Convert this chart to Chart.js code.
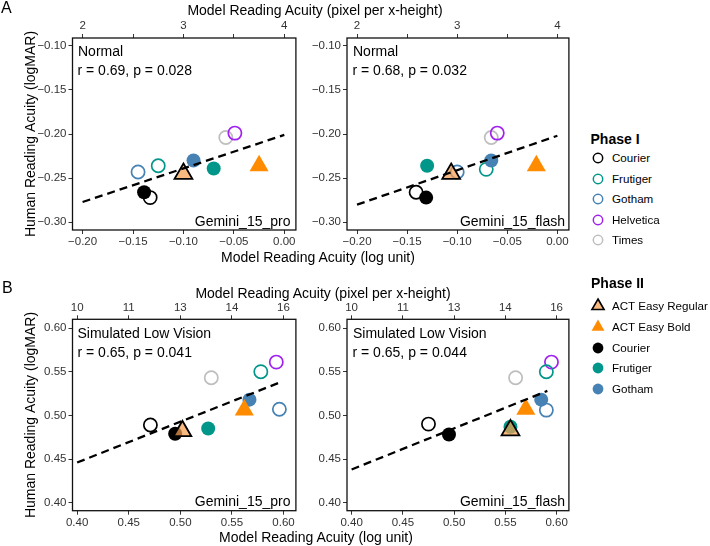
<!DOCTYPE html>
<html><head><meta charset="utf-8">
<script src="https://cdn.jsdelivr.net/npm/chart.js@4.4.1/dist/chart.umd.min.js"></script>
<style>
html,body{margin:0;padding:0;background:#fff;}
body{width:710px;height:546px;position:relative;overflow:hidden;font-family:"Liberation Sans",Arial,sans-serif;color:#000;}
canvas{position:absolute;}
.t{position:absolute;white-space:nowrap;line-height:1;}
svg.m{position:absolute;overflow:visible;}
</style></head><body>
<canvas id="cA1" width="308" height="270" style="left:0;top:0"></canvas>
<canvas id="cA2" width="281" height="270" style="left:300px;top:0"></canvas>
<canvas id="cB1" width="308" height="276" style="left:0;top:270px"></canvas>
<canvas id="cB2" width="281" height="276" style="left:300px;top:270px"></canvas>
<script>
// ---------------- DATA ----------------
const phase1Fonts = ["Courier","Frutiger","Gotham","Helvetica","Times"];
const phase2Fonts = ["ACT Easy Regular","ACT Easy Bold","Courier","Frutiger","Gotham"];

// Panel A (Normal), Gemini_15_pro
const aProP1X = [-0.133,-0.125,-0.145,-0.049,-0.058];
const aProP1Y = [-0.272,-0.236,-0.243,-0.199,-0.204];
const aProP2X = [-0.100,-0.025,-0.139,-0.070,-0.090];
const aProP2Y = [-0.245,-0.236,-0.266,-0.239,-0.230];
const aProFitX = [-0.20,0.00];
const aProFitY = [-0.277,-0.201];

// Panel A (Normal), Gemini_15_flash
const aFlashP1X = [-0.141,-0.071,-0.100,-0.060,-0.066];
const aFlashP1Y = [-0.266,-0.240,-0.243,-0.199,-0.204];
const aFlashP2X = [-0.106,-0.021,-0.131,-0.130,-0.066];
const aFlashP2Y = [-0.245,-0.236,-0.272,-0.236,-0.230];
const aFlashFitX = [-0.20,0.00];
const aFlashFitY = [-0.280,-0.202];

// Panel B (Simulated Low Vision), Gemini_15_pro
const bProP1X = [0.471,0.578,0.596,0.593,0.530];
const bProP1Y = [0.489,0.550,0.507,0.561,0.543];
const bProP2X = [0.502,0.562,0.495,0.527,0.567];
const bProP2Y = [0.482,0.506,0.479,0.485,0.518];
const bProFitX = [0.40,0.595];
const bProFitY = [0.446,0.537];

// Panel B (Simulated Low Vision), Gemini_15_flash
const bFlashP1X = [0.475,0.590,0.590,0.595,0.560];
const bFlashP1Y = [0.490,0.550,0.506,0.561,0.543];
const bFlashP2X = [0.555,0.570,0.495,0.555,0.585];
const bFlashP2Y = [0.483,0.507,0.478,0.487,0.518];
const bFlashFitX = [0.40,0.591];
const bFlashFitY = [0.438,0.528];

// Tick values and labels
const xTicksA = [-0.20,-0.15,-0.10,-0.05,0.00];
const xTickLabelsA = ["\u22120.20","\u22120.15","\u22120.10","\u22120.05","0.00"];
const topTickLabelsA = ["2","","3","","4"];
const yTicksA = [-0.30,-0.25,-0.20,-0.15,-0.10];
const yTickLabelsA = ["\u22120.30","\u22120.25","\u22120.20","\u22120.15","\u22120.10"];
const xTicksB = [0.40,0.45,0.50,0.55,0.60];
const xTickLabelsB = ["0.40","0.45","0.50","0.55","0.60"];
const topTickLabelsB = ["10","11","13","14","16"];
const yTicksB = [0.40,0.45,0.50,0.55,0.60];
const yTickLabelsB = ["0.40","0.45","0.50","0.55","0.60"];

// ---------------- STYLES ----------------
const FONT = '"Liberation Sans", Arial, sans-serif';
Chart.defaults.font.family = FONT;
Chart.defaults.color = '#333';
const fontColor = {Courier:'#000000', Frutiger:'#00978A', Gotham:'#4682B4', Helvetica:'#A020F0', Times:'#BEBEBE'};
const regFill = 'rgba(246,160,80,0.72)';
const boldFill = '#FF8C00';

function p2Style(name){
  if(name==='ACT Easy Regular') return {pointStyle:'triangle', pointRadius:10.3, backgroundColor:regFill, borderColor:'#000', borderWidth:1.8, order:1};
  if(name==='ACT Easy Bold') return {pointStyle:'triangle', pointRadius:11, backgroundColor:boldFill, borderColor:boldFill, borderWidth:0, order:1};
  return {pointStyle:'circle', pointRadius:7, backgroundColor:fontColor[name], borderColor:fontColor[name], borderWidth:0, order:2};
}

const framePlugin = {
  id:'frame',
  afterDraw(chart){
    const a = chart.chartArea, ctx = chart.ctx;
    ctx.save(); ctx.strokeStyle = '#111'; ctx.lineWidth = 1.3;
    ctx.strokeRect(a.left, a.top, a.right-a.left, a.bottom-a.top);
    ctx.restore();
  }
};

function makeChart(id, c){
  const canvas = document.getElementById(id);
  const H = canvas.height;
  const datasets = [];
  phase1Fonts.forEach((f,i)=>{
    datasets.push({type:'scatter', label:'P1 '+f, data:[{x:c.p1X[i], y:c.p1Y[i]}],
      pointStyle:'circle', pointRadius:6.6, backgroundColor:'rgba(0,0,0,0)', borderColor:fontColor[f], borderWidth:1.7, order:4});
  });
  phase2Fonts.forEach((f,i)=>{
    datasets.push(Object.assign({type:'scatter', label:'P2 '+f, data:[{x:c.p2X[i], y:c.p2Y[i]}]}, p2Style(f)));
  });
  datasets.push({type:'line', label:'fit', data:c.fitX.map((x,i)=>({x:x, y:c.fitY[i]})),
    borderColor:'#000', borderWidth:2.3, borderDash:[8,5], pointRadius:0, fill:false, tension:0, order:0});

  const tickFont = {size:11.5, family:FONT};
  const gridCfg = {display:true, drawOnChartArea:false, drawTicks:true, tickLength:4, color:'#333', lineWidth:1};
  const setTicks = vals => s => { s.ticks = vals.map(v=>({value:v})); };

  return new Chart(canvas, {
    data:{datasets},
    options:{
      responsive:false, animation:false, devicePixelRatio:1, events:[],
      layout:{padding:{left:0, top:0, bottom:0, right:0}},
      plugins:{legend:{display:false}, tooltip:{enabled:false}},
      scales:{
        x:{type:'linear', position:'bottom', min:c.xMin, max:c.xMax,
          afterBuildTicks:setTicks(c.xTicks),
          ticks:{callback:(v,i)=>c.xLabels[i], font:tickFont, color:'#333', padding:1, maxRotation:0, autoSkip:false},
          grid:gridCfg, border:{display:false},
          afterFit:s=>{ s.height = H - c.plotBottom; }},
        x2:{type:'linear', position:'top', min:c.xMin, max:c.xMax,
          afterBuildTicks:setTicks(c.xTicks),
          ticks:{callback:(v,i)=>c.topLabels[i], font:tickFont, color:'#333', padding:1, maxRotation:0, autoSkip:false},
          grid:gridCfg, border:{display:false},
          afterFit:s=>{ s.height = c.plotTop; }},
        y:{type:'linear', position:'left', min:c.yMin, max:c.yMax,
          afterBuildTicks:setTicks(c.yTicks),
          ticks:{callback:(v,i)=>c.yLabels[i], font:tickFont, color:'#333', padding:2, autoSkip:false},
          grid:gridCfg, border:{display:false},
          title:{display:c.yTitle, text:'Human Reading Acuity (logMAR)', color:'#000', font:{size:14, family:FONT}, padding:{top:22.6, bottom:0}},
          afterFit:s=>{ s.width = c.plotLeft; }}
      }
    },
    plugins:[framePlugin]
  });
}

const rangeA = {xMin:-0.21, xMax:0.0115, yMin:-0.3087, yMax:-0.0913, xTicks:xTicksA, xLabels:xTickLabelsA, topLabels:topTickLabelsA, yTicks:yTicksA, yLabels:yTickLabelsA, plotTop:38, plotBottom:230};
const rangeB = {xMin:0.3955, xMax:0.612, yMin:0.3908, yMax:0.61, xTicks:xTicksB, xLabels:xTickLabelsB, topLabels:topTickLabelsB, yTicks:yTicksB, yLabels:yTickLabelsB, plotTop:49.3, plotBottom:240.7};

makeChart('cA1', Object.assign({}, rangeA, {p1X:aProP1X, p1Y:aProP1Y, p2X:aProP2X, p2Y:aProP2Y, fitX:aProFitX, fitY:aProFitY, plotLeft:72.5, yTitle:true}));
makeChart('cA2', Object.assign({}, rangeA, {p1X:aFlashP1X, p1Y:aFlashP1Y, p2X:aFlashP2X, p2Y:aFlashP2Y, fitX:aFlashFitX, fitY:aFlashFitY, plotLeft:47, yTitle:false}));
makeChart('cB1', Object.assign({}, rangeB, {p1X:bProP1X, p1Y:bProP1Y, p2X:bProP2X, p2Y:bProP2Y, fitX:bProFitX, fitY:bProFitY, plotLeft:72.5, yTitle:true}));
makeChart('cB2', Object.assign({}, rangeB, {p1X:bFlashP1X, p1Y:bFlashP1Y, p2X:bFlashP2X, p2Y:bFlashP2Y, fitX:bFlashFitX, fitY:bFlashFitY, plotLeft:47, yTitle:false}));

// ---------------- TEXT ----------------
function txt(s, x, y, o){
  o = o || {};
  const d = document.createElement('div');
  d.className = 't';
  d.textContent = s;
  d.style.left = x + 'px';
  d.style.top = y + 'px';
  d.style.fontSize = (o.size || 14) + 'px';
  if (o.bold) d.style.fontWeight = 'bold';
  const tx = o.anchor === 'middle' ? '-50%' : (o.anchor === 'end' ? '-100%' : '0');
  d.style.transform = 'translate(' + tx + ',-50%)';
  document.body.appendChild(d);
}
txt('A', 1, 8, {size:16});
txt('B', 2, 287.5, {size:16});
txt('Model Reading Acuity (pixel per x-height)', 315, 10, {anchor:'middle'});
txt('Model Reading Acuity (log unit)', 318, 257, {anchor:'middle'});
txt('Model Reading Acuity (pixel per x-height)', 323, 293, {anchor:'middle'});
txt('Model Reading Acuity (log unit)', 316, 537, {anchor:'middle'});

txt('Normal', 78, 51);
txt('r = 0.69, p = 0.028', 77.5, 69.5);
txt('Gemini_15_pro', 290.5, 220.5, {anchor:'end'});
txt('Normal', 353, 51);
txt('r = 0.68, p = 0.032', 352.5, 69.5);
txt('Gemini_15_flash', 565, 220.5, {anchor:'end'});
txt('Simulated Low Vision', 77.5, 332.5);
txt('r = 0.65, p = 0.041', 77.5, 352);
txt('Gemini_15_pro', 290.5, 501, {anchor:'end'});
txt('Simulated Low Vision', 353, 332.5);
txt('r = 0.65, p = 0.044', 352.5, 352);
txt('Gemini_15_flash', 565, 501, {anchor:'end'});

// ---------------- LEGEND ----------------
const NS = 'http://www.w3.org/2000/svg';
function marker(cx, cy, kind, color){
  const s = document.createElementNS(NS, 'svg');
  s.setAttribute('class','m'); s.setAttribute('width','20'); s.setAttribute('height','20');
  s.style.left = (cx-10)+'px'; s.style.top = (cy-10)+'px';
  let el;
  if (kind === 'open' || kind === 'filled'){
    el = document.createElementNS(NS, 'circle');
    el.setAttribute('cx','10'); el.setAttribute('cy','10');
    if (kind === 'open'){ el.setAttribute('r','4.7'); el.setAttribute('fill','none'); el.setAttribute('stroke',color); el.setAttribute('stroke-width','1.5'); }
    else { el.setAttribute('r','5.4'); el.setAttribute('fill',color); }
  } else {
    el = document.createElementNS(NS, 'polygon');
    const r = kind === 'treg' ? 7 : 7.4;
    const pts = [[10, 10 - r],[10 + r*0.866, 10 + r/2],[10 - r*0.866, 10 + r/2]].map(p=>p.join(',')).join(' ');
    el.setAttribute('points', pts);
    if (kind === 'treg'){ el.setAttribute('fill', regFill); el.setAttribute('stroke','#000'); el.setAttribute('stroke-width','1.6'); el.setAttribute('stroke-linejoin','miter'); }
    else { el.setAttribute('fill', boldFill); }
  }
  s.appendChild(el);
  document.body.appendChild(s);
}
txt('Phase I', 590.5, 138.5, {bold:true});
const p1LegY = [158, 178.6, 199.2, 219.8, 240.4];
phase1Fonts.forEach((f,i)=>{ marker(598.3, p1LegY[i], 'open', fontColor[f]); txt(f, 612, p1LegY[i], {size:11.6}); });
txt('Phase II', 591, 282.5, {bold:true});
const p2LegY = [306, 326.8, 347.6, 368.4, 389.2];
phase2Fonts.forEach((f,i)=>{
  const kind = f==='ACT Easy Regular' ? 'treg' : (f==='ACT Easy Bold' ? 'tbold' : 'filled');
  marker(598.3, p2LegY[i], kind, fontColor[f]);
  txt(f, 612, p2LegY[i], {size:11.6});
});
</script>
</body></html>
